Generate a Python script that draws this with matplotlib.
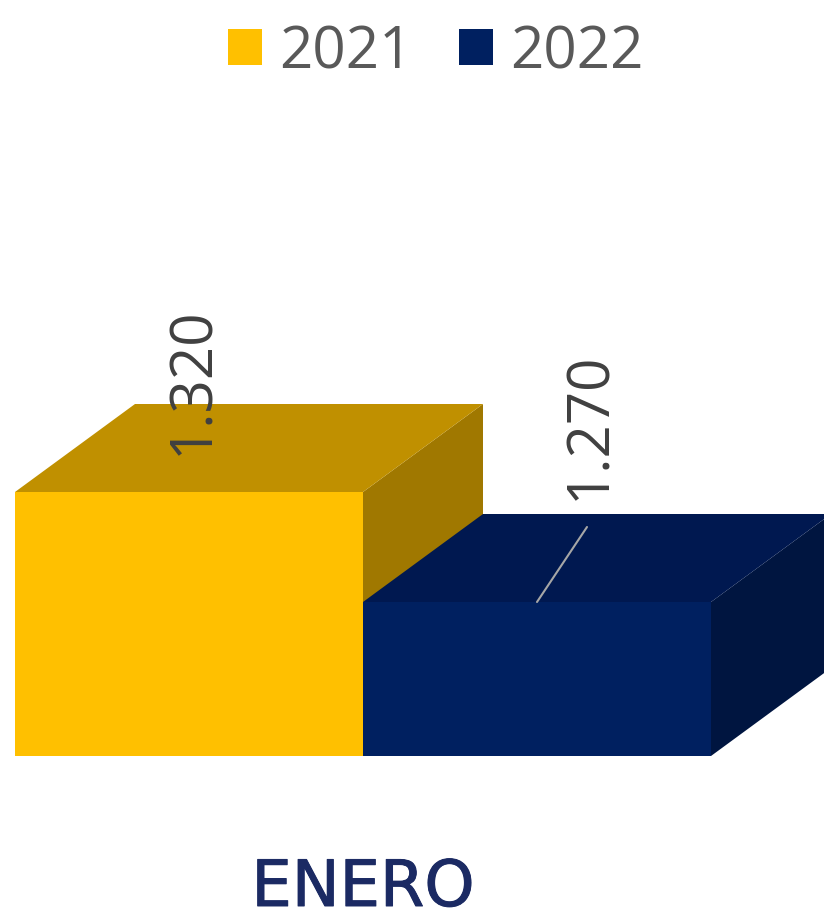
import matplotlib
matplotlib.use("Agg")
import matplotlib.pyplot as plt
from matplotlib.patches import Polygon, Patch
import matplotlib.patheffects as pe

categories = ["ENERO"]
series = ["2021", "2022"]
values = [1.320, 1.270]
labels = ["1.320", "1.270"]

front = ["#FFC000", "#002060"]
top = ["#C09000", "#001850"]
side = ["#A07800", "#001540"]

W, H = 824, 912
fig = plt.figure(figsize=(W / 100, H / 100), dpi=100)
ax = fig.add_axes([0, 0, 1, 1])
ax.set_axis_off()

px_x = 348.0          # pixels per bar width unit
base = 1.2            # axis minimum
px_y = 2200.0         # pixels per value unit
ax.set_xlim(-1 - 15 / px_x, (W - 363) / px_x)
ax.set_ylim(base - (H - 757) / px_y, base + 757 / px_y)

dx = 120 / px_x
dy = 88 / px_y

for i, v in enumerate(values):
    x0 = -1 + i
    x1 = x0 + 1
    # side face
    ax.add_patch(Polygon([(x1, base), (x1 + dx, base + dy), (x1 + dx, v + dy), (x1, v)],
                         closed=True, facecolor=side[i], edgecolor="none", zorder=2 + 3 * i))
    # top face
    ax.add_patch(Polygon([(x0, v), (x0 + dx, v + dy), (x1 + dx, v + dy), (x1, v)],
                         closed=True, facecolor=top[i], edgecolor="none", zorder=3 + 3 * i))
    # front face
    ax.add_patch(Polygon([(x0, base), (x0, v), (x1, v), (x1, base)],
                         closed=True, facecolor=front[i], edgecolor="none", zorder=4 + 3 * i))

lab_font = "Open Sans"
# value labels
ax.annotate(labels[0], xy=(-0.5, values[0]), xytext=(4 * 0.72, 38 * 0.72),
            textcoords="offset points", rotation=90, ha="center", va="bottom",
            fontsize=42, color="#404040", family=lab_font, zorder=20)
ax.annotate(labels[1], xy=(0.5, values[1]), xytext=(53 * 0.72, 103 * 0.72),
            textcoords="offset points", rotation=90, ha="center", va="bottom",
            fontsize=42, color="#404040", family=lab_font, zorder=20)
# leader line for 2022
ax.annotate("", xy=(0.5, values[1]), xytext=(0.5 + 50 / px_x, values[1] + 75 / px_y),
            arrowprops=dict(arrowstyle="-", color="#A6A6A6", lw=1.5,
                            shrinkA=0, shrinkB=0), zorder=20)

# category label
ax.text(0, base - 150 / px_y, categories[0], ha="center", va="baseline",
        fontsize=46, color="#1B2A63", family="DejaVu Sans", zorder=20,
        path_effects=[pe.withStroke(linewidth=0.7, foreground="#1B2A63")])

handles = [Patch(facecolor=front[i], edgecolor="none", label=series[i]) for i in range(2)]
leg = fig.legend(handles=handles, loc="center", bbox_to_anchor=(436 / W, 1 - 53 / H),
                 ncol=2, frameon=False, fontsize=42, handlelength=0.58, handleheight=0.58,
                 handletextpad=0.3, columnspacing=0.8, borderpad=0, borderaxespad=0)
for t in leg.get_texts():
    t.set_color("#595959")
    t.set_family(lab_font)

fig.savefig("out.png", dpi=100)
